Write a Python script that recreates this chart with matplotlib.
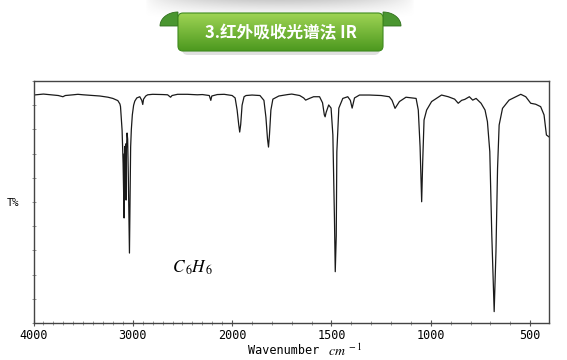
import numpy as np
import matplotlib
matplotlib.use("Agg")
import matplotlib.pyplot as plt
from matplotlib.patches import FancyBboxPatch, Polygon

# ---------------- data ----------------
wavenumber = [4000, 3950, 3900, 3850, 3800, 3750, 3704, 3680, 3650, 3600, 3553, 3500,
              3400, 3332, 3250, 3201, 3151, 3130, 3124, 3115, 3108, 3098, 3092, 3088,
              3085, 3082, 3079, 3076, 3072, 3068, 3064, 3058, 3052, 3045, 3038, 3034,
              3030, 3026, 3022, 3015, 3005, 2992, 2980, 2960, 2930, 2910, 2900, 2892,
              2870, 2850, 2800, 2700, 2650, 2620, 2605, 2550, 2450, 2350, 2300, 2230,
              2215, 2205, 2150, 2080, 2030, 2000, 1985, 1975, 1967, 1962, 1957, 1950,
              1940, 1930, 1900, 1860, 1840, 1830, 1822, 1817, 1812, 1805, 1795, 1765,
              1720, 1700, 1660, 1640, 1630, 1611, 1590, 1560, 1545, 1536, 1532, 1527,
              1514, 1502, 1493, 1485, 1481, 1476, 1473, 1463, 1443, 1418, 1405, 1396,
              1388, 1384, 1359, 1309, 1250, 1209, 1195, 1180, 1170, 1158, 1125, 1074,
              1063, 1054, 1046, 1041, 1034, 1021, 996, 946, 912, 880, 862, 845, 829,
              806, 789, 772, 747, 727, 715, 703, 693, 681, 672, 664, 656, 639, 606,
              572, 547, 522, 497, 472, 447, 430, 418, 405]
transmittance = [94.2, 94.4, 94.6, 94.4, 94.2, 94.0, 93.5, 94.0, 94.1, 94.3, 94.5, 94.3,
                 94.0, 93.8, 93.3, 92.8, 91.9, 90.5, 89.4, 84.0, 79.6, 66.0, 52.0, 43.4,
                 70.0, 54.0, 73.0, 53.0, 74.0, 50.8, 72.0, 78.5, 76.0, 60.0, 40.0, 28.9,
                 45.0, 65.0, 72.7, 80.0, 86.0, 90.0, 91.7, 93.0, 93.5, 92.0, 90.3, 92.5,
                 93.8, 94.3, 94.5, 94.4, 94.3, 93.3, 94.0, 94.5, 94.5, 94.3, 94.4, 94.0,
                 92.0, 93.8, 94.4, 94.5, 94.2, 94.0, 93.0, 88.0, 82.0, 78.9, 82.0, 90.0,
                 93.5, 94.0, 94.2, 94.0, 92.0, 85.0, 76.0, 72.7, 78.0, 88.0, 92.5, 93.8,
                 94.4, 94.6, 94.0, 93.0, 92.1, 92.8, 93.5, 93.5, 91.0, 86.0, 85.2, 87.0,
                 90.1, 88.8, 77.7, 43.0, 21.2, 36.0, 70.7, 88.8, 92.8, 93.5, 92.0, 88.8,
                 91.5, 93.0, 94.2, 94.2, 94.0, 93.5, 92.0, 88.7, 90.0, 91.5, 93.3, 92.8,
                 88.0, 72.9, 50.1, 66.0, 83.9, 88.0, 91.5, 94.2, 93.5, 92.5, 90.8, 92.0,
                 92.4, 93.5, 92.1, 92.8, 90.8, 88.0, 83.2, 70.8, 36.4, 4.7, 29.5, 63.9,
                 81.8, 88.7, 92.1, 93.5, 94.5, 93.5, 90.8, 90.4, 89.4, 86.0, 77.7, 76.9]

major_ticks = [4000, 3000, 2000, 1500, 1000, 500]
major_labels = ["4000", "3000", "2000", "1500", "1000", "500"]
minor_ticks = list(range(4000, 400, -100))
y_ticks = list(range(0, 101, 10))

W, H = 567, 360
fig = plt.figure(figsize=(W / 100, H / 100), dpi=100)
fig.patch.set_facecolor("white")

# ---------------- spectrum axes ----------------
L, R, T, B = 33.5, 549, 81, 323
ax = fig.add_axes([L / W, 1 - B / H, (R - L) / W, (B - T) / H])


def fwd(x):
    x = np.asarray(x, dtype=float)
    return np.where(x >= 2000, x, 2 * x - 2000)


def inv(y):
    y = np.asarray(y, dtype=float)
    return np.where(y >= 2000, y, (y + 2000) / 2)


ax.set_xscale("function", functions=(fwd, inv))
ax.plot(wavenumber, transmittance, color="#1a1a1a", lw=0.9)
ax.set_xlim(4000, 405)
ax.set_ylim(0, 100)

ax.set_xticks(major_ticks)
ax.set_xticklabels(major_labels, family="DejaVu Sans Mono", fontsize=8.5)
ax.set_xticks(minor_ticks, minor=True)
ax.set_yticks(y_ticks)
ax.set_yticklabels([])
ax.tick_params(axis="x", which="major", direction="inout", length=5, width=0.8,
               color="#555555", pad=2)
ax.tick_params(axis="x", which="minor", direction="inout", length=3, width=0.6,
               color="#888888")
ax.tick_params(axis="y", which="major", direction="inout", length=3, width=0.6,
               color="#888888")
ax.yaxis.set_minor_locator(matplotlib.ticker.NullLocator())
for s in ax.spines.values():
    s.set_color("#444444")
    s.set_linewidth(1.0)

fig.text(13 / W, 1 - 203 / H, "T%", family="DejaVu Sans Mono", fontsize=7.5,
         ha="center", va="center")
fig.text(248 / W, 1 - 350 / H, "Wavenumber", family="DejaVu Sans Mono", fontsize=8.5,
         ha="left", va="center")
plt.rcParams["mathtext.fontset"] = "stix"
fig.text(328 / W, 1 - 351 / H, r"$cm^{\ -1}$", fontsize=10, ha="left", va="center")
fig.text(172 / W, 1 - 268 / H, r"$C_{\,6}H_{\,6}$", fontsize=12.5, ha="left", va="center")

# ---------------- banner ----------------
bx = fig.add_axes([140 / W, 1 - 62 / H, 280 / W, 62 / H])
bx.set_xlim(140, 420)
bx.set_ylim(62, 0)
bx.axis("off")

# soft top grey shadow
ny, nx = 40, 200
vy = np.linspace(1.0, 0.0, ny).reshape(-1, 1) ** 1.3
hx = np.sin(np.linspace(0, np.pi, nx)).reshape(1, -1) ** 0.6
alpha = 0.45 * vy * hx
shadow = np.zeros((ny, nx, 4))
shadow[..., 0] = 0.55
shadow[..., 1] = 0.55
shadow[..., 2] = 0.55
shadow[..., 3] = alpha
bx.imshow(shadow, extent=(145, 415, 18, 0), aspect="auto", zorder=0)
# bottom shadow
bx.add_patch(FancyBboxPatch((182, 20), 198, 35, boxstyle="round,pad=0,rounding_size=6",
                            fc="#9a9a9a", ec="none", alpha=0.3, zorder=1))

# ribbon curls
th = np.linspace(0, np.pi / 2, 20)
left_curl = [(178, 26)] + [(178 - 18 * np.cos(t), 26 - 14 * np.sin(t)) for t in th]
bx.add_patch(Polygon(left_curl, closed=True, fc="#4a9630", ec="#2f6e1c", lw=0.6, zorder=2))
right_curl = [(383, 26)] + [(383 + 18 * np.cos(t), 26 - 14 * np.sin(t)) for t in th]
bx.add_patch(Polygon(right_curl, closed=True, fc="#4a9630", ec="#2f6e1c", lw=0.6, zorder=2))

# main green body with gradient
body = FancyBboxPatch((178, 13), 205, 38, boxstyle="round,pad=0,rounding_size=5",
                      fc="none", ec="#3e8a1e", lw=0.8, zorder=4)
bx.add_patch(body)
g = np.linspace(0, 1, 60)
top_c = np.array([0.62, 0.83, 0.33])
bot_c = np.array([0.30, 0.60, 0.12])
rgb = np.zeros((60, 1, 3))
for i in range(3):
    rgb[:, 0, i] = top_c[i] + (bot_c[i] - top_c[i]) * g
im = bx.imshow(rgb, extent=(178, 383, 51, 13), aspect="auto", zorder=3)
im.set_clip_path(body)

bx.text(280.5, 33, "3.红外吸收光谱法 IR", color="white", fontsize=12, fontweight="bold",
        family=["Noto Sans CJK SC", "DejaVu Sans"], ha="center", va="center", zorder=5)

fig.savefig("out.png", dpi=100, facecolor="white")
